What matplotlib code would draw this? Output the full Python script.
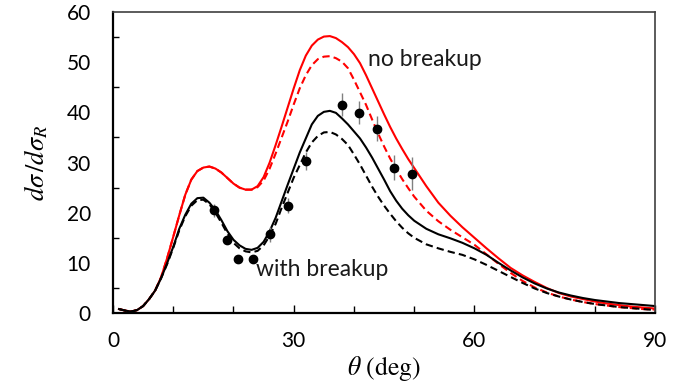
import numpy as np
from matplotlib import pyplot as plt

plt.rcParams.update({
    "font.family": ["Lato", "DejaVu Sans"],
    "mathtext.fontset": "stix",
})

# angles (deg) at which curves were read
theta = [1, 2, 3, 4, 5, 6, 7, 8, 9, 10, 11, 12, 13, 14, 15, 16, 17, 18, 19, 20,
         21, 22, 23, 24, 25, 26, 27, 28, 29, 30, 31, 32, 33, 34, 35, 36, 37, 38,
         39, 40, 41, 42, 43, 44, 45, 46, 47, 48, 49, 50, 52, 54, 56, 58, 60, 62,
         64, 66, 68, 70, 72, 74, 76, 78, 80, 82, 84, 86, 88, 90]

# no breakup, solid (red)
nobu_solid = [0.8, 0.5, 0.3, 0.6, 1.4, 2.8, 4.5, 7.2, 11.0, 15.2, 19.5, 23.6, 26.6,
              28.3, 29.0, 29.2, 28.8, 28.0, 26.9, 25.8, 25.0, 24.6, 24.6, 25.3,
              27.1, 30.0, 33.5, 37.2, 41.0, 44.8, 48.4, 51.3, 53.3, 54.5, 55.1,
              55.2, 54.8, 54.0, 53.0, 51.6, 49.8, 47.4, 44.8, 42.2, 39.6, 37.1,
              34.8, 32.7, 30.7, 28.9, 25.3, 22.0, 19.4, 17.1, 15.0, 12.9, 10.9,
              9.0, 7.5, 6.2, 5.0, 4.0, 3.3, 2.8, 2.3, 1.9, 1.6, 1.3, 1.1, 0.9]
# no breakup, dashed (red)
nobu_dash = [0.8, 0.5, 0.3, 0.6, 1.4, 2.8, 4.5, 7.2, 11.0, 15.2, 19.5, 23.6, 26.6,
             28.3, 29.0, 29.2, 28.8, 28.0, 26.9, 25.8, 25.0, 24.6, 24.6, 25.1,
             26.4, 28.8, 31.8, 35.0, 38.2, 41.6, 44.8, 47.4, 49.4, 50.6, 51.1,
             51.2, 50.8, 50.1, 48.8, 46.5, 44.0, 41.5, 38.6, 35.8, 33.2, 30.8,
             28.7, 26.7, 24.9, 23.2, 20.4, 18.3, 16.6, 15.1, 13.6, 11.7, 9.8,
             8.0, 6.4, 5.1, 4.1, 3.3, 2.7, 2.2, 1.8, 1.5, 1.2, 1.0, 0.8, 0.7]
# with breakup, solid (black)
wbu_solid = [0.8, 0.5, 0.3, 0.6, 1.4, 2.8, 4.5, 7.0, 10.0, 13.2, 16.8, 19.6, 21.8,
             22.9, 23.0, 22.0, 20.5, 18.5, 16.3, 14.6, 13.5, 12.8, 12.6, 13.0,
             14.2, 16.3, 19.0, 22.3, 25.6, 28.8, 32.0, 34.8, 37.6, 39.3, 40.1,
             40.3, 39.9, 38.8, 37.6, 36.2, 34.8, 33.0, 31.0, 28.8, 26.6, 24.3,
             22.4, 20.8, 19.5, 18.4, 16.8, 15.7, 14.9, 14.0, 12.9, 11.6, 10.0,
             8.5, 7.1, 5.9, 4.9, 4.1, 3.5, 3.0, 2.6, 2.3, 2.0, 1.8, 1.6, 1.4]
# with breakup, dashed (black)
wbu_dash = [0.8, 0.5, 0.3, 0.6, 1.4, 2.8, 4.5, 7.0, 9.8, 13.0, 16.5, 19.3, 21.4,
            22.5, 22.6, 21.7, 20.0, 18.0, 15.8, 14.0, 12.9, 12.3, 12.1, 12.4,
            13.5, 15.4, 17.8, 21.0, 24.0, 27.0, 29.5, 32.0, 34.0, 35.3, 36.0,
            36.1, 35.6, 34.7, 33.5, 31.6, 29.6, 27.4, 25.2, 23.2, 21.4, 19.8,
            18.3, 17.0, 15.9, 15.0, 13.7, 12.9, 12.2, 11.6, 10.7, 9.6, 8.4,
            7.2, 6.0, 4.9, 4.0, 3.3, 2.7, 2.2, 1.8, 1.5, 1.2, 1.0, 0.8, 0.6]

# experimental points
exp_theta = [16.8, 18.9, 20.8, 23.2, 26.1, 29.1, 32.1, 38.0, 40.9, 43.8, 46.7, 49.6]
exp_val = [20.5, 14.5, 10.8, 10.7, 15.7, 21.4, 30.4, 41.5, 39.9, 36.7, 29.0, 27.8]
exp_err = [1.3, 0.5, 0.5, 0.5, 1.5, 1.5, 1.8, 2.3, 2.3, 2.5, 2.5, 3.3]

fig = plt.figure(figsize=(6.89, 3.87), dpi=100)
ax = fig.add_axes([0.164, 0.191, 0.787, 0.778])

ax.plot(theta, nobu_dash, color='#ff0000', lw=1.5, dashes=(3.5, 2))
ax.plot(theta, nobu_solid, color='#ff0000', lw=1.5)
ax.plot(theta, wbu_dash, color='black', lw=1.5, dashes=(3.5, 2))
ax.plot(theta, wbu_solid, color='black', lw=1.5)
ax.errorbar(exp_theta, exp_val, yerr=exp_err, fmt='o', color='black', ms=6,
            ecolor='#808080', elinewidth=1.0, capsize=0, zorder=5)

ax.text(42.3, 50.6, "no breakup", fontsize=16.5, va='center', ha='left', color='#1a1a1a')
ax.text(23.7, 8.6, "with breakup", fontsize=16.5, va='center', ha='left', color='#1a1a1a')

ax.set_xlim(0, 90)
ax.set_ylim(0, 60)
ax.set_xticks([0, 30, 60, 90])
ax.set_xticks(np.arange(0, 91, 10), minor=True)
ax.set_yticks(np.arange(0, 61, 10))
ax.set_yticks(np.arange(0, 61, 5), minor=True)
ax.tick_params(which='both', direction='in', labelsize=15, colors='black')
ax.tick_params(axis='x', which='major', length=6, width=1, pad=13)
ax.tick_params(axis='x', which='minor', length=5, width=1)
ax.tick_params(axis='y', which='major', length=0, pad=16)
ax.tick_params(axis='y', which='minor', length=4, width=1)

for s in ['left', 'bottom']:
    ax.spines[s].set_linewidth(1.6)
    ax.spines[s].set_color('black')
for s in ['top', 'right']:
    ax.spines[s].set_linewidth(1.2)
    ax.spines[s].set_color('#404040')

ax.set_xlabel(r"$\theta\ \mathrm{(deg)}$", fontsize=18.5, labelpad=2)
ax.set_ylabel(r"$d\sigma\,/d\sigma_R$", fontsize=19, labelpad=12)

fig.savefig('out.png', dpi=100)
